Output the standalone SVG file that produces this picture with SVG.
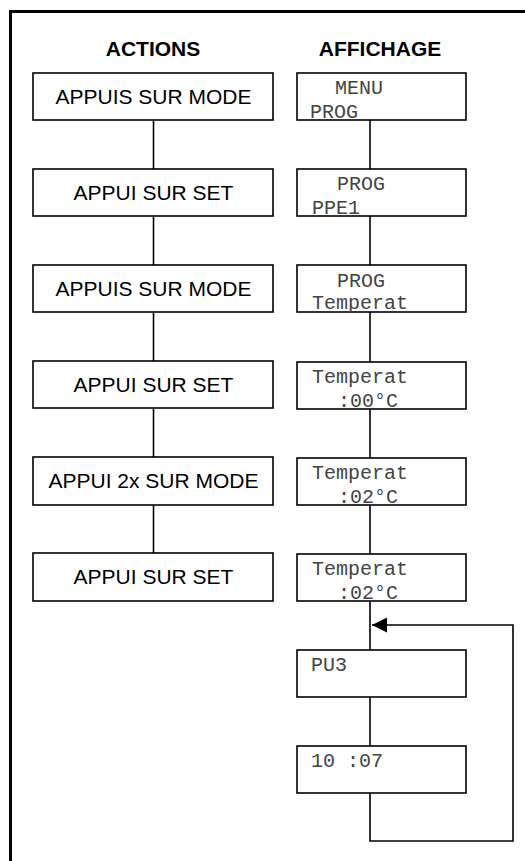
<svg xmlns="http://www.w3.org/2000/svg" width="525" height="861" viewBox="0 0 525 861">
<style>
.frame{fill:none;stroke:#000;stroke-width:3}
.box{fill:#fff;stroke:#000;stroke-width:1.6}
.edge{fill:none;stroke:#000;stroke-width:1.6}
.hdr{font-family:"Liberation Sans",Arial,sans-serif;font-weight:bold;font-size:21px;text-anchor:middle;fill:#000}
.act{font-family:"Liberation Sans",Arial,sans-serif;font-size:21px;text-anchor:middle;fill:#000}
.lcd{font-family:"Liberation Mono","Courier New",monospace;font-size:20px;fill:#444}
</style>
<defs>
<clipPath id="c1" clipPathUnits="userSpaceOnUse"><rect x="297" y="73" width="169" height="47"/></clipPath>
<clipPath id="c2" clipPathUnits="userSpaceOnUse"><rect x="297" y="169" width="169" height="47"/></clipPath>
<clipPath id="c3" clipPathUnits="userSpaceOnUse"><rect x="297" y="265" width="169" height="47"/></clipPath>
<clipPath id="c4" clipPathUnits="userSpaceOnUse"><rect x="297" y="362" width="169" height="47"/></clipPath>
<clipPath id="c5" clipPathUnits="userSpaceOnUse"><rect x="297" y="458" width="169" height="47"/></clipPath>
<clipPath id="c6" clipPathUnits="userSpaceOnUse"><rect x="297" y="554" width="169" height="47"/></clipPath>
<clipPath id="c7" clipPathUnits="userSpaceOnUse"><rect x="297" y="650" width="169" height="47"/></clipPath>
<clipPath id="c8" clipPathUnits="userSpaceOnUse"><rect x="297" y="746" width="169" height="47"/></clipPath>
<marker id="arr" markerWidth="16" markerHeight="16" refX="15" refY="7.5" orient="auto" markerUnits="userSpaceOnUse">
<path d="M0,0 L15,7.5 L0,15 Z" fill="#000"/>
</marker>
</defs>
<rect class="frame" x="10.5" y="11.5" width="530" height="870"/>
<text class="hdr" x="153" y="56">ACTIONS</text>
<text class="hdr" x="380" y="56">AFFICHAGE</text>
<g id="connectors">
<line class="edge" x1="153.5" y1="120" x2="153.5" y2="169"/>
<line class="edge" x1="153.5" y1="216" x2="153.5" y2="265"/>
<line class="edge" x1="153.5" y1="312" x2="153.5" y2="361"/>
<line class="edge" x1="153.5" y1="408" x2="153.5" y2="457"/>
<line class="edge" x1="153.5" y1="505" x2="153.5" y2="553"/>
<line class="edge" x1="370" y1="120" x2="370" y2="169"/>
<line class="edge" x1="370" y1="216" x2="370" y2="265"/>
<line class="edge" x1="370" y1="312" x2="370" y2="362"/>
<line class="edge" x1="370" y1="409" x2="370" y2="458"/>
<line class="edge" x1="370" y1="505" x2="370" y2="554"/>
<line class="edge" x1="370" y1="601" x2="370" y2="650"/>
<line class="edge" x1="370" y1="697" x2="370" y2="746"/>
<path class="edge" d="M370,793 V841 H513 V625 H372" marker-end="url(#arr)"/>
</g>
<g id="a1"><rect class="box" x="33" y="73" width="240" height="47"/><text class="act" x="153.5" y="104">APPUIS SUR MODE</text></g>
<g id="a2"><rect class="box" x="33" y="169" width="240" height="47"/><text class="act" x="153.5" y="200">APPUI SUR SET</text></g>
<g id="a3"><rect class="box" x="33" y="265" width="240" height="47"/><text class="act" x="153.5" y="296">APPUIS SUR MODE</text></g>
<g id="a4"><rect class="box" x="33" y="361" width="240" height="47"/><text class="act" x="153.5" y="392">APPUI SUR SET</text></g>
<g id="a5"><rect class="box" x="33" y="457" width="240" height="48"/><text class="act" x="153.5" y="488">APPUI 2x SUR MODE</text></g>
<g id="a6"><rect class="box" x="33" y="553" width="240" height="48"/><text class="act" x="153.5" y="584">APPUI SUR SET</text></g>
<g id="d1"><rect class="box" x="297" y="73" width="169" height="47"/><g clip-path="url(#c1)"><text class="lcd" x="335" y="94">MENU</text><text class="lcd" x="310" y="118">PROG</text></g></g>
<g id="d2"><rect class="box" x="297" y="169" width="169" height="47"/><g clip-path="url(#c2)"><text class="lcd" x="337" y="190">PROG</text><text class="lcd" x="312" y="214">PPE1</text></g></g>
<g id="d3"><rect class="box" x="297" y="265" width="169" height="47"/><g clip-path="url(#c3)"><text class="lcd" x="337" y="287">PROG</text><text class="lcd" x="312" y="309">Temperat</text></g></g>
<g id="d4"><rect class="box" x="297" y="362" width="169" height="47"/><g clip-path="url(#c4)"><text class="lcd" x="312" y="383">Temperat</text><text class="lcd" x="338" y="407">:00°C</text></g></g>
<g id="d5"><rect class="box" x="297" y="458" width="169" height="47"/><g clip-path="url(#c5)"><text class="lcd" x="312" y="479">Temperat</text><text class="lcd" x="338" y="503">:02°C</text></g></g>
<g id="d6"><rect class="box" x="297" y="554" width="169" height="47"/><g clip-path="url(#c6)"><text class="lcd" x="312" y="575">Temperat</text><text class="lcd" x="338" y="599">:02°C</text></g></g>
<g id="d7"><rect class="box" x="297" y="650" width="169" height="47"/><g clip-path="url(#c7)"><text class="lcd" x="311" y="671">PU3</text></g></g>
<g id="d8"><rect class="box" x="297" y="746" width="169" height="47"/><g clip-path="url(#c8)"><text class="lcd" x="311" y="767">10 :07</text></g></g>
</svg>
